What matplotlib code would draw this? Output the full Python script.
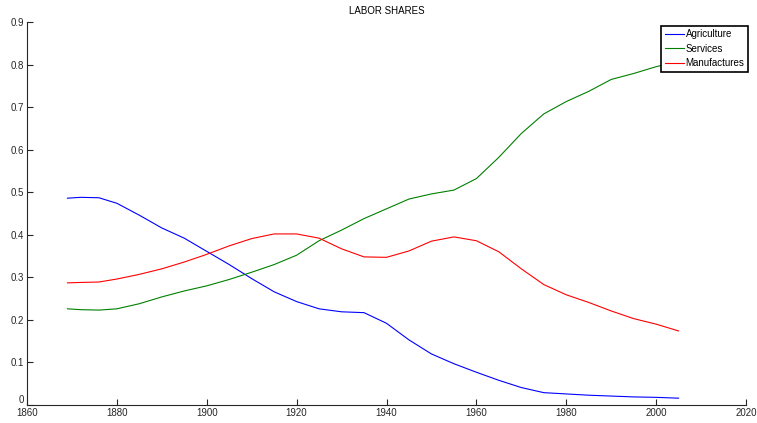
import matplotlib
matplotlib.use("Agg")
import matplotlib.pyplot as plt

# ===== Data =====
YEARS = [1869, 1872, 1876, 1880, 1885, 1890, 1895, 1900, 1905, 1910,
         1915, 1920, 1925, 1930, 1935, 1940, 1945, 1950, 1955, 1960,
         1965, 1970, 1975, 1980, 1985, 1990, 1995, 2000, 2005]

AGRICULTURE = [0.486, 0.488, 0.487, 0.474, 0.446, 0.416, 0.392, 0.361, 0.330, 0.297,
               0.266, 0.243, 0.226, 0.219, 0.217, 0.192, 0.153, 0.120, 0.097, 0.077,
               0.058, 0.041, 0.029, 0.026, 0.023, 0.021, 0.019, 0.018, 0.016]

SERVICES = [0.226, 0.224, 0.223, 0.226, 0.238, 0.254, 0.268, 0.280, 0.295, 0.312,
            0.330, 0.352, 0.386, 0.411, 0.438, 0.461, 0.484, 0.496, 0.505, 0.532,
            0.582, 0.638, 0.684, 0.713, 0.737, 0.765, 0.779, 0.795, 0.808]

MANUFACTURES = [0.287, 0.288, 0.289, 0.296, 0.307, 0.320, 0.336, 0.354, 0.374, 0.391,
                0.402, 0.402, 0.392, 0.367, 0.348, 0.347, 0.362, 0.385, 0.395, 0.386,
                0.360, 0.320, 0.283, 0.259, 0.241, 0.221, 0.203, 0.190, 0.174]

SERIES = [
    ("Agriculture", AGRICULTURE, "#0000FF"),
    ("Services", SERVICES, "#008000"),
    ("Manufactures", MANUFACTURES, "#FF0000"),
]

plt.rcParams["font.family"] = ["Liberation Sans", "DejaVu Sans"]

fig = plt.figure(figsize=(7.57, 4.23), dpi=100)
ax = fig.add_axes([27 / 757, 1 - 405 / 423, (746 - 27) / 757, (405 - 22) / 423])

for label, values, color in SERIES:
    ax.plot(YEARS, values, color=color, linewidth=0.8, label=label)

ax.set_xlim(1860, 2020)
ax.set_ylim(0, 0.9)
ax.set_xticks(range(1860, 2021, 20))
ax.set_yticks([i / 10 for i in range(10)])
ax.set_yticklabels(["0"] + [f"{i / 10:.1f}" for i in range(1, 10)])

for side in ("top", "right"):
    ax.spines[side].set_visible(False)
for side in ("left", "bottom"):
    ax.spines[side].set_color("#262626")
    ax.spines[side].set_linewidth(0.8)

ax.tick_params(direction="in", length=4, width=0.8, labelsize=7,
               colors="#262626", pad=2)
# the "0" label sits a touch higher, like the reference
ax.get_yticklabels()[0].set_verticalalignment("bottom")

ax.set_title("LABOR SHARES", fontsize=7, pad=6)

leg = ax.legend(loc="upper right", bbox_to_anchor=(748 / 757, 1 - 26 / 423),
                bbox_transform=fig.transFigure, borderaxespad=0,
                fontsize=7, fancybox=False, framealpha=1, handlelength=2.0,
                handletextpad=0.15, labelspacing=0.45, borderpad=0.35)
leg.get_frame().set_edgecolor("black")
leg.get_frame().set_linewidth(1.2)

fig.savefig("out.png", dpi=100)
